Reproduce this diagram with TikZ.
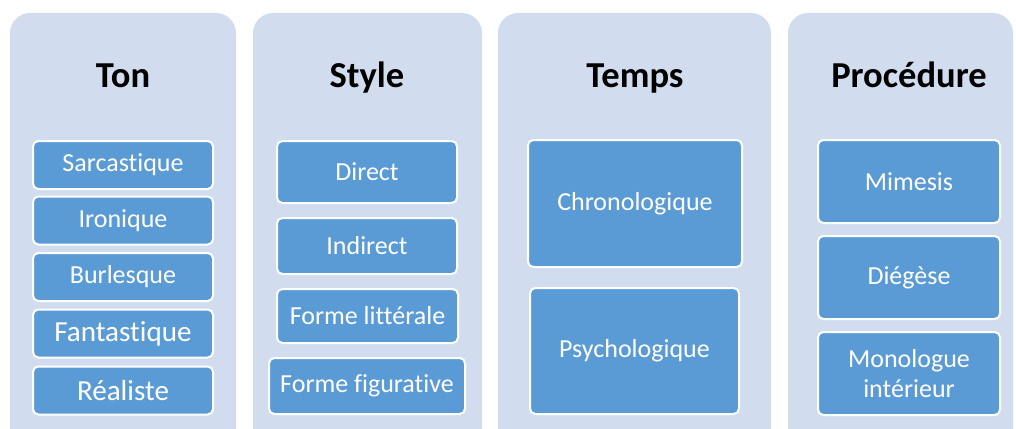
\documentclass[tikz,border=0pt]{standalone}
\usepackage{fontspec}
\setmainfont{Carlito}[Ligatures={NoCommon,NoRare}]
\definecolor{bgcol}{RGB}{209,221,239}
\definecolor{boxcol}{RGB}{91,155,213}
\begin{document}
\begin{tikzpicture}[x=0.75pt,y=-0.75pt,
  bgpanel/.style={fill=bgcol,draw=none,rounded corners=15pt},
  title/.style={anchor=base,font=\bfseries\fontsize{27.4pt}{32pt}\selectfont,text=black,inner sep=0pt},
  itembox/.style={fill=boxcol,draw=white,line width=1.5pt,rounded corners=4pt,inner sep=0pt,
     text=white,font=\fontsize{19.5pt}{22pt}\selectfont,align=center},
  bigtext/.style={font=\fontsize{21.8pt}{24pt}\selectfont}]
\useasboundingbox (0,0) rectangle (1016,428);
\begin{scope}
\clip (0,0) rectangle (1016,428);
\fill[bgpanel] (10,13) rectangle (236,450);
\fill[bgpanel] (253,13) rectangle (482,450);
\fill[bgpanel] (498,13) rectangle (771,450);
\fill[bgpanel] (788,13) rectangle (1013,450);
\end{scope}
% titles
\node[title] (tTon) at (123,88) {Ton};
\node[title] (tStyle) at (367,88) {Style};
\node[title] (tTemps) at (635,88) {Temps};
\node[title] (tProc) at (909,88) {Procédure};
% column 1
\node[itembox,minimum width=135pt,minimum height=36pt] (sar) at (123,165) {Sarcastique};
\node[itembox,minimum width=135pt,minimum height=36pt] (iro) at (123,220.5) {Ironique};
\node[itembox,minimum width=135pt,minimum height=36pt] (bur) at (123,277) {Burlesque};
\node[itembox,bigtext,minimum width=135pt,minimum height=36pt] (fan) at (123,333.5) {Fantastique};
\node[itembox,bigtext,minimum width=135pt,minimum height=36pt] (rea) at (123,390.5) {Réaliste};
% column 2
\node[itembox,minimum width=135pt,minimum height=46.5pt] (dir) at (367,172) {Direct};
\node[itembox,minimum width=135pt,minimum height=42pt] (ind) at (367,246) {Indirect};
\node[itembox,minimum width=135.75pt,minimum height=40.5pt] (lit) at (367.5,316) {Forme littérale};
\node[itembox,minimum width=147pt,minimum height=42pt] (fig) at (367,386) {Forme figurative};
% column 3
\node[itembox,minimum width=160.5pt,minimum height=95.25pt] (chr) at (635,203.5) {Chronologique};
\node[itembox,minimum width=156.75pt,minimum height=94.5pt] (psy) at (634.5,351) {Psychologique};
% column 4
\node[itembox,minimum width=136.5pt,minimum height=62.25pt] (mim) at (909,181.5) {Mimesis};
\node[itembox,minimum width=136.5pt,minimum height=62.25pt] (die) at (909,277.5) {Diégèse};
\node[itembox,minimum width=136.5pt,minimum height=62.25pt] (mon) at (909,373.5) {Monologue\\intérieur};
\end{tikzpicture}
\end{document}
